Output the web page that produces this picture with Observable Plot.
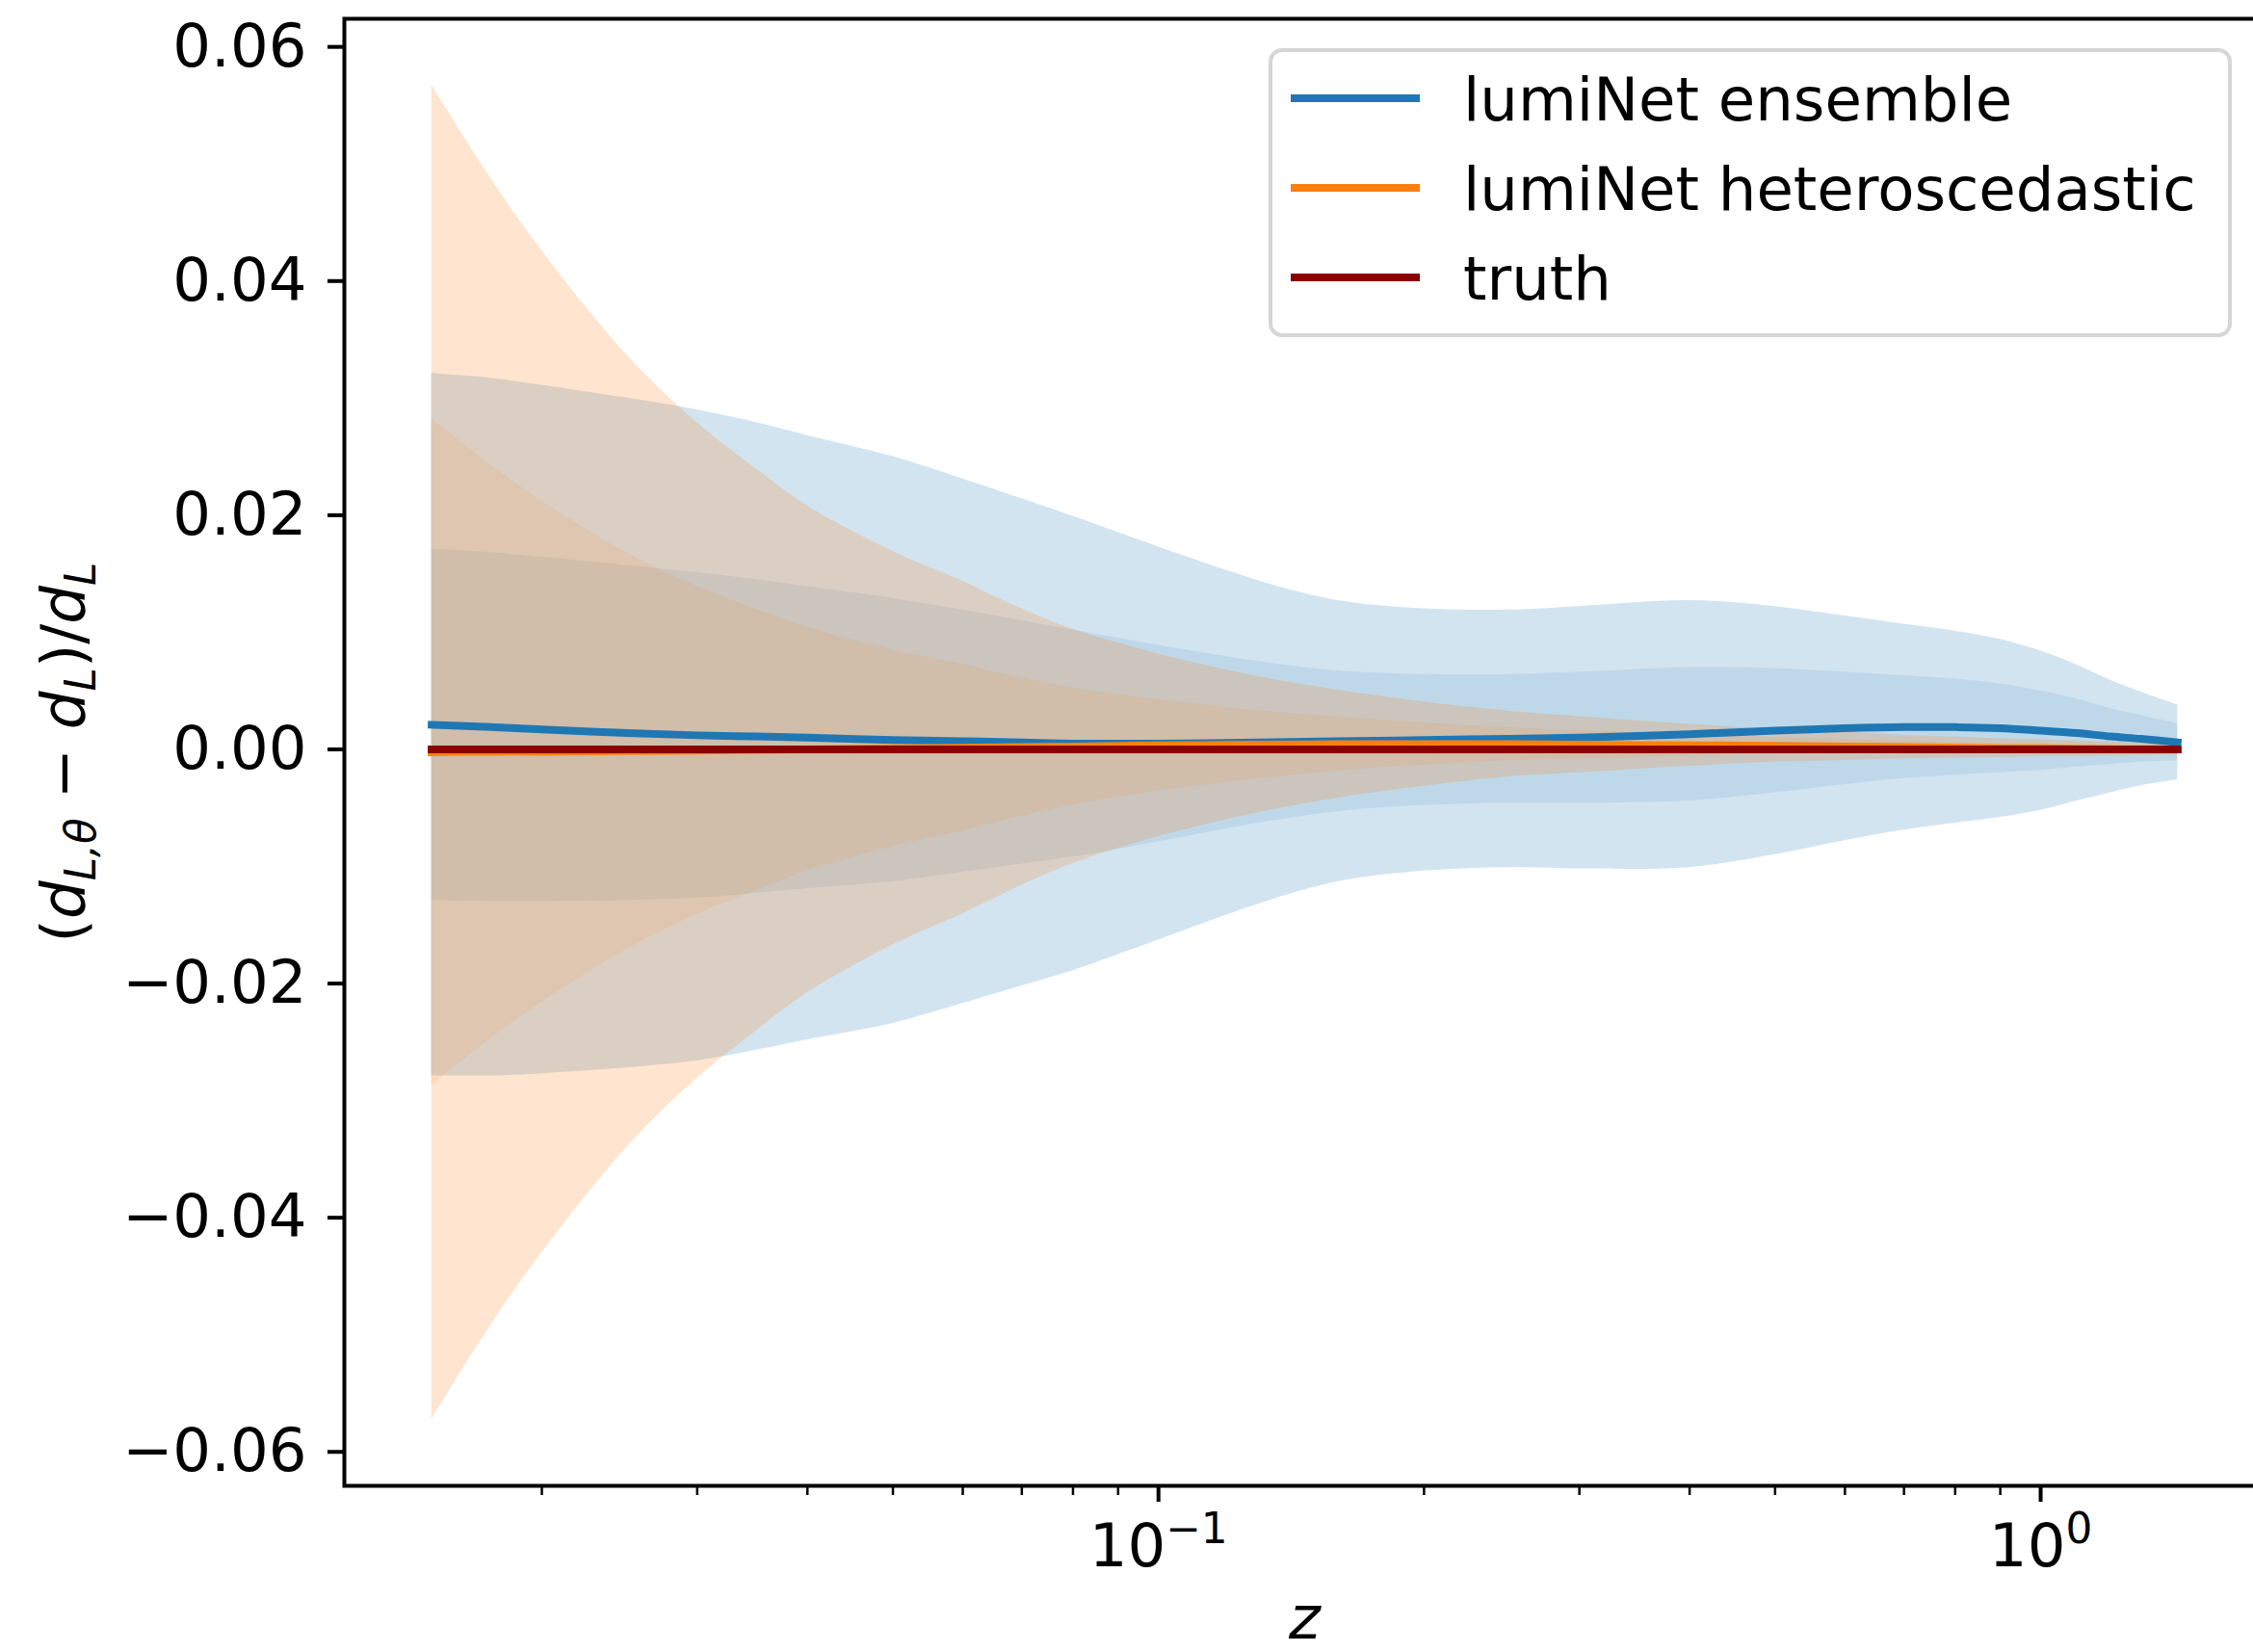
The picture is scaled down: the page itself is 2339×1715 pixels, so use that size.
<!DOCTYPE html>
<html>
<head>
<meta charset="utf-8">
<script src="https://cdn.jsdelivr.net/npm/d3@7"></script>
<script src="https://cdn.jsdelivr.net/npm/@observablehq/plot@0.6"></script>
<style>
  html, body { margin: 0; padding: 0; background: #fff; overflow: hidden; }
  #wrap { position: relative; width: 2360px; height: 1715px; }
  #legend { position: absolute; left: 1317px; top: 50px; }
</style>
</head>
<body>
<div id="wrap"></div>
<script>
// ---- data ----
const z = [0.015, 0.0175, 0.02, 0.025, 0.03, 0.035, 0.04, 0.05, 0.06, 0.07, 0.08, 0.1, 0.13, 0.16, 0.2, 0.25, 0.3, 0.4, 0.5, 0.6, 0.7, 0.8, 0.9, 1.0, 1.1, 1.2, 1.3, 1.43];

// lumiNet ensemble: mean relative difference and 1-sigma width
const ensembleMean  = [0.0021, 0.0019, 0.0017, 0.0014, 0.0012, 0.0011, 0.0010, 0.0008, 0.0007, 0.0006, 0.0005, 0.0005, 0.0006, 0.0007, 0.0008, 0.0009, 0.0010, 0.0013, 0.0016, 0.0018, 0.0019, 0.0019, 0.0018, 0.0016, 0.0014, 0.0011, 0.0009, 0.0006];
const ensembleSigma = [0.0150, 0.0149, 0.0147, 0.0143, 0.0139, 0.0134, 0.0129, 0.0121, 0.0112, 0.0104, 0.0097, 0.0084, 0.0069, 0.0060, 0.0056, 0.0055, 0.0056, 0.0057, 0.0053, 0.0048, 0.0044, 0.0041, 0.0038, 0.0034, 0.0029, 0.0024, 0.0020, 0.0016];

// lumiNet heteroscedastic: mean relative difference and 1-sigma width
const heteroMean  = [-0.00025, -0.0002, -0.0002, -0.00015, -0.0001, -0.00005, 0.0, 0.0001, 0.00015, 0.0002, 0.00025, 0.00035, 0.0004, 0.00045, 0.00045, 0.00045, 0.0004, 0.00035, 0.0003, 0.00025, 0.0002, 0.00015, 0.0001, 0.0001, 0.00005, 0.00003, 0.00002, 0.0];
const heteroSigma = [0.0285, 0.0245, 0.0214, 0.0169, 0.0140, 0.0120, 0.0104, 0.0084, 0.0071, 0.0059, 0.0050, 0.0039, 0.0029, 0.0023, 0.0018, 0.0014, 0.0012, 0.0009, 0.0007, 0.0006, 0.0005, 0.00045, 0.0004, 0.00036, 0.00033, 0.0003, 0.00028, 0.00025];

// truth (reference line)
const truthZ = [0.015, 1.43];
const truthValues = [0, 0];

// ticks
const yTicks = [-0.06, -0.04, -0.02, 0.00, 0.02, 0.04, 0.06];
const xMajorTicks = [0.1, 1];
const xMinorTicks = [0.02, 0.03, 0.04, 0.05, 0.06, 0.07, 0.08, 0.09, 0.2, 0.3, 0.4, 0.5, 0.6, 0.7, 0.8, 0.9];

// legend
const legendLabels = ["lumiNet ensemble", "lumiNet heteroscedastic", "truth"];
const legendColors = ["#1f77b4", "#ff7f0e", "#8b0000"];

const yLabelText = "(dL,θ − dL)/dL";

// ---- build table ----
const rows = z.map((zz, i) => ({
  z: zz,
  em: ensembleMean[i],
  eLo1: ensembleMean[i] - ensembleSigma[i], eHi1: ensembleMean[i] + ensembleSigma[i],
  eLo2: ensembleMean[i] - 2 * ensembleSigma[i], eHi2: ensembleMean[i] + 2 * ensembleSigma[i],
  hm: heteroMean[i],
  hLo1: heteroMean[i] - heteroSigma[i], hHi1: heteroMean[i] + heteroSigma[i],
  hLo2: heteroMean[i] - 2 * heteroSigma[i], hHi2: heteroMean[i] + 2 * heteroSigma[i]
}));
const truthRows = truthZ.map((zz, i) => ({z: zz, v: truthValues[i]}));

const fmtY = d => d.toFixed(2).replace("-", "\u2212");
const fmtX = d => `10^{${Math.round(Math.log10(d))}}`;
const FS = 62.5;
const curve = "catmull-rom";

const plot = Plot.plot({
  width: 2360,
  height: 1715,
  marginLeft: 357,
  marginRight: 9,
  marginTop: 19,
  marginBottom: 173,
  style: {
    fontFamily: "'DejaVu Sans', sans-serif",
    fontSize: FS + "px",
    background: "white",
    color: "black",
    maxWidth: "none"
  },
  x: {type: "log", domain: [0.011944, 1.7962], label: null},
  y: {domain: [-0.0629, 0.0624], label: null},
  marks: [
    Plot.areaY(rows, {x: "z", y1: "eLo2", y2: "eHi2", fill: legendColors[0], fillOpacity: 0.2, curve}),
    Plot.areaY(rows, {x: "z", y1: "eLo1", y2: "eHi1", fill: legendColors[0], fillOpacity: 0.1, curve}),
    Plot.areaY(rows, {x: "z", y1: "hLo2", y2: "hHi2", fill: legendColors[1], fillOpacity: 0.2, curve}),
    Plot.areaY(rows, {x: "z", y1: "hLo1", y2: "hHi1", fill: legendColors[1], fillOpacity: 0.1, curve}),
    Plot.line(rows, {x: "z", y: "em", stroke: legendColors[0], strokeWidth: 8, curve, strokeLinecap: "square"}),
    Plot.line(rows, {x: "z", y: "hm", stroke: legendColors[1], strokeWidth: 8, curve, strokeLinecap: "square"}),
    Plot.line(truthRows, {x: "z", y: "v", stroke: legendColors[2], strokeWidth: 8, strokeLinecap: "square"}),
    Plot.frame({stroke: "black", strokeWidth: 4}),
    Plot.axisY({ticks: yTicks, tickSize: 17, tickPadding: 22, strokeWidth: 4, tickFormat: fmtY, label: null, fontSize: FS}),
    Plot.axisX({ticks: xMinorTicks, tickSize: 10, strokeWidth: 2.5, tickFormat: () => "", label: null}),
    Plot.axisX({ticks: xMajorTicks, tickSize: 17, tickPadding: 22, strokeWidth: 4, tickFormat: fmtX, label: null, fontSize: FS}),
    Plot.text([yLabelText], {text: d => d, frameAnchor: "left", dx: -271, rotate: -90, textAnchor: "middle", lineAnchor: "bottom", fontSize: FS}),
    Plot.text(["z"], {text: d => d, frameAnchor: "bottom", dy: 158, lineAnchor: "bottom", fontStyle: "italic", fontSize: FS})
  ]
});

const wrap = document.getElementById("wrap");
wrap.appendChild(plot);

// ---- rich text (superscripts / subscripts) ----
const NS = "http://www.w3.org/2000/svg";
function richText(t, parts) {
  t.textContent = "";
  for (const p of parts) {
    const ts = document.createElementNS(NS, "tspan");
    ts.textContent = p.s;
    if (p.it) ts.setAttribute("font-style", "italic");
    if (p.size) ts.setAttribute("font-size", p.size);
    if (p.dy) ts.setAttribute("dy", p.dy);
    t.appendChild(ts);
  }
}
plot.querySelectorAll("text").forEach(t => {
  const s = t.textContent;
  const m = s.match(/^10\^\{(.+)\}$/);
  if (m) {
    richText(t, [{s: "10"}, {s: m[1].replace("-", "\u2212"), size: 43.75, dy: -24}]);
  } else if (s === yLabelText) {
    const sub = 12;
    richText(t, [
      {s: "("}, {s: "d", it: true},
      {s: "L,θ", it: true, size: 43.75, dy: sub},
      {s: " \u2212 ", dy: -sub},
      {s: "d", it: true},
      {s: "L", it: true, size: 43.75, dy: sub},
      {s: ")/", dy: -sub},
      {s: "d", it: true},
      {s: "L", it: true, size: 43.75, dy: sub}
    ]);
  }
});

// ---- legend (inside the axes, upper right) ----
const leg = d3.select(wrap).append("svg")
  .attr("id", "legend")
  .attr("width", 1000).attr("height", 300)
  .style("font-family", "'DejaVu Sans', sans-serif")
  .style("font-size", FS + "px");
leg.append("rect")
  .attr("x", 2).attr("y", 2).attr("width", 996).attr("height", 296).attr("rx", 12)
  .attr("fill", "white").attr("stroke", "#d6d6d6").attr("stroke-width", 4);
const rowsG = leg.selectAll("g.item").data(legendLabels).join("g")
  .attr("class", "item")
  .attr("transform", (d, i) => `translate(0, ${52 + i * 93})`);
rowsG.append("line")
  .attr("x1", 23).attr("x2", 157).attr("y1", 0).attr("y2", 0)
  .attr("stroke", (d, i) => legendColors[i]).attr("stroke-width", 8);
rowsG.append("text")
  .attr("x", 202).attr("y", 23)
  .attr("fill", "black")
  .text(d => d);
</script>
</body>
</html>
